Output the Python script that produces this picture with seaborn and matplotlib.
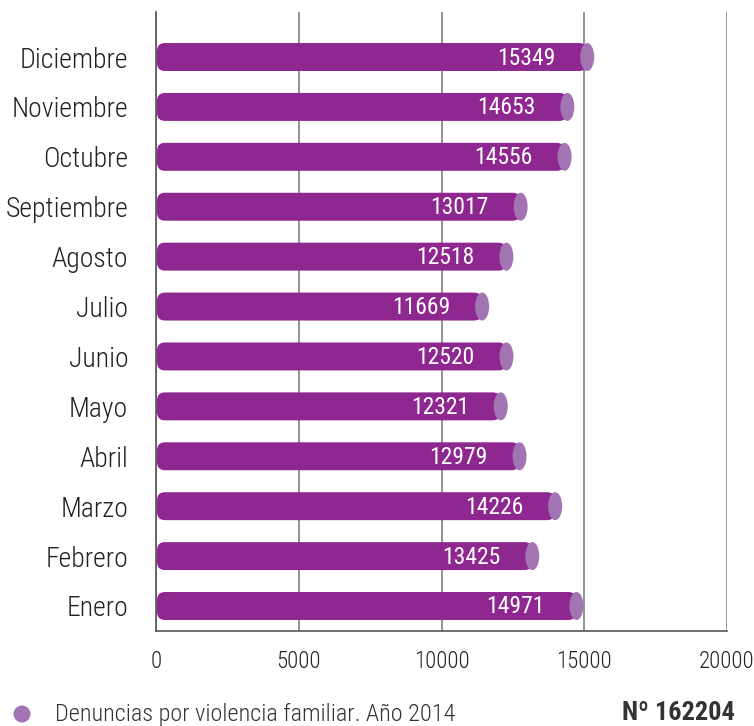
import matplotlib
matplotlib.use("Agg")
import matplotlib.pyplot as plt
import seaborn as sns
import pandas as pd
from matplotlib.patches import FancyBboxPatch, Ellipse

meses = ["Enero", "Febrero", "Marzo", "Abril", "Mayo", "Junio",
         "Julio", "Agosto", "Septiembre", "Octubre", "Noviembre", "Diciembre"]
denuncias = [14971, 13425, 14226, 12979, 12321, 12520,
             11669, 12518, 13017, 14556, 14653, 15349]
xticks = [0, 5000, 10000, 15000, 20000]
leyenda = "Denuncias por violencia familiar. Año 2014"
total = "Nº 162204"

bar_color = "#8e278f"
cap_color = "#a374b3"
text_color = "#222222"

sns.set_style("white")
plt.rcParams["font.family"] = ["Roboto Condensed", "Barlow Condensed", "DejaVu Sans"]

df = pd.DataFrame({"mes": meses[::-1], "n": denuncias[::-1]})

fig = plt.figure(figsize=(7.54, 7.26), dpi=100)
ax = fig.add_axes([156 / 754, 1 - 631 / 726, (727 - 156) / 754, (631 - 12) / 726])

sns.barplot(data=df, x="n", y="mes", orient="h", color=bar_color,
            width=0.56, saturation=1, ax=ax, zorder=3)

ax.set_xlim(0, 20000)
ax.set_ylim(11 + 25 / 49.9, -45 / 49.9)

# pixel scale for rounding / caps
px_x = 20000 / (727 - 156)
px_y = 1 / 49.9
cap_w = 14 * px_x

for p in list(ax.patches):
    x, y = p.get_x(), p.get_y()
    w, h = p.get_width(), p.get_height()
    p.remove()
    r = 8 * px_x
    body = FancyBboxPatch((x + 1 * px_x, y), w - cap_w / 2 - 1 * px_x, h,
                          boxstyle=f"round,pad=0,rounding_size={r}",
                          mutation_aspect=px_y / px_x,
                          fc=bar_color, ec="none", zorder=3)
    ax.add_patch(body)
    ax.add_patch(Ellipse((w - cap_w / 2, y + h / 2), cap_w, h,
                         fc=cap_color, ec="none", zorder=4))
    ax.text(w - 39 * px_x, y + h / 2 + 0.02, f"{int(round(w))}", color="white",
            ha="right", va="center", fontsize=17, zorder=5)

ax.set_xticks(xticks)
ax.set_xticklabels([str(t) for t in xticks])
ax.grid(axis="x", color="#8a8a8a", lw=1.3, zorder=0)
ax.grid(axis="y", visible=False)
for s in ["top", "right"]:
    ax.spines[s].set_visible(False)
ax.spines["left"].set_color("#555555")
ax.spines["bottom"].set_color("#555555")
ax.spines["left"].set_linewidth(1.2)
ax.spines["bottom"].set_linewidth(1.2)
ax.tick_params(axis="x", length=0, pad=14, labelsize=16.5, labelcolor=text_color)
ax.tick_params(axis="y", length=0, pad=20, labelsize=20, labelcolor=text_color)
for lab in ax.get_xticklabels() + ax.get_yticklabels():
    lab.set_fontweight("light")
ax.set_xlabel("")
ax.set_ylabel("")

fig.patches.append(Ellipse((22 / 754, 1 - 714 / 726), 17 / 754, 17 / 726,
                           transform=fig.transFigure, fc=cap_color, ec="none"))
fig.text(55 / 754, 1 - 714 / 726, leyenda, ha="left", va="center",
         fontsize=17.5, fontweight="light", color="#333333")
fig.text(735 / 754, 1 - 713 / 726, total, ha="right", va="center",
         fontsize=19, fontweight="bold", color="#333333")

fig.savefig("out.png", dpi=100)
